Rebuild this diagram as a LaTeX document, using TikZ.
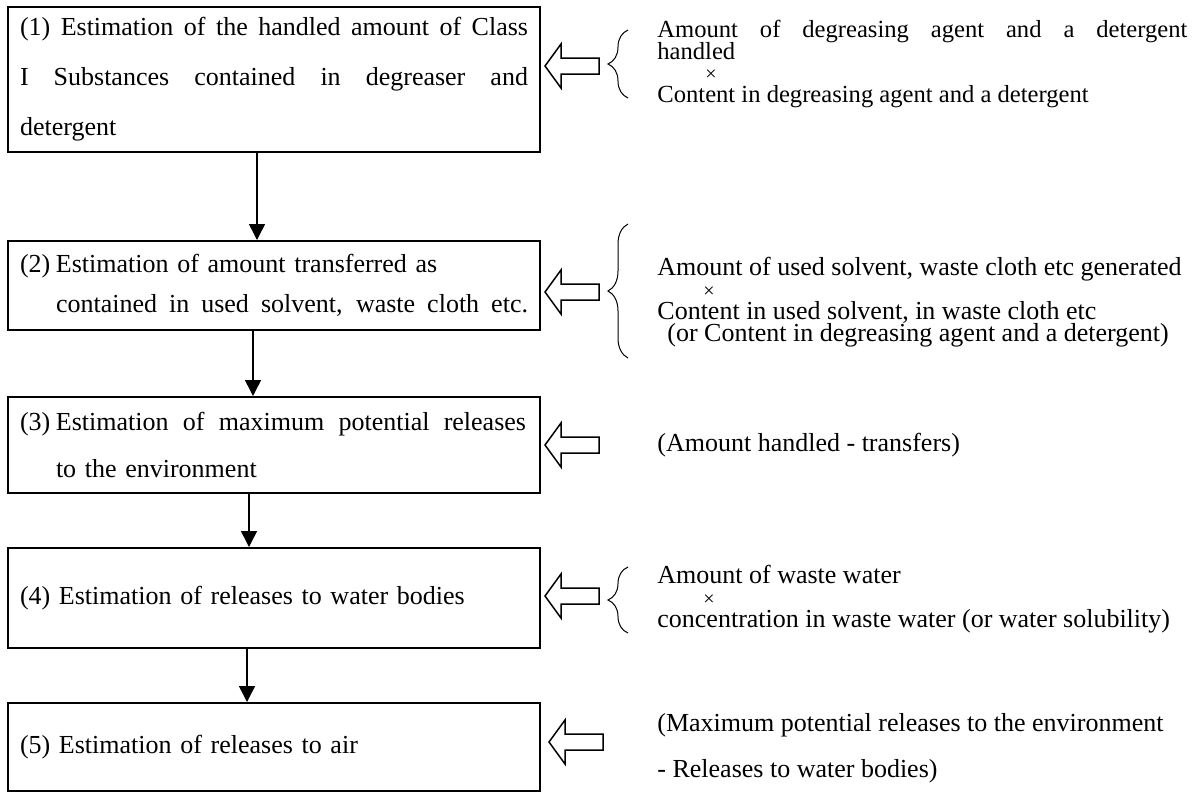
\documentclass[tikz,border=0pt]{standalone}
\usepackage{fontspec}
\setmainfont{Liberation Serif}
\usetikzlibrary{arrows.meta,decorations.pathreplacing}
\setlength{\lineskiplimit}{-20pt}
\newcommand{\spreadline}[2]{{\spaceskip=.25em plus 1fil\makebox[#1][s]{#2}}}
\newcommand{\timessign}{{\fontsize{10}{10}\selectfont ×}}

\tikzset{
  stepbox/.style={draw, line width=1pt, minimum width=266pt, text width=254pt,
    inner xsep=6pt, align=left, font=\fontsize{13}{23.5}\selectfont},
  flow/.style={-{Triangle[length=8pt,width=8pt]}, line width=0.75pt},
  hollow/.style={draw, line width=0.75pt, fill=white},
  note/.style={anchor=west, align=left, inner sep=0pt,
    font=\fontsize{13}{11}\selectfont},
  bracel/.style={decorate, decoration={brace, amplitude=10pt}, line width=0.5pt}
}

\begin{document}
\begin{tikzpicture}[x=0.5pt, y=-0.5pt]
  \useasboundingbox (0,0) rectangle (1198,793);

  \node[stepbox, minimum height=72.5pt, font=\fontsize{13}{25}\selectfont] (box1) at (274,79.5)
    {\spreadline{254pt}{(1) Estimation of the handled amount of Class}\\
     \spreadline{254pt}{I Substances contained in degreaser and}\\
     detergent};
  \node[stepbox, minimum height=44.5pt, font=\fontsize{13}{20}\selectfont] (box2) at (274,285.5)
    {\makebox[18pt][l]{(2)}Estimation of amount transferred as\\
     \hspace*{18pt}\spreadline{236pt}{contained in used solvent, waste cloth etc.}};
  \node[stepbox, minimum height=48pt] (box3) at (274,445)
    {\makebox[18pt][l]{(3)}\spreadline{235pt}{Estimation of maximum potential releases}\\
     \hspace*{18pt}to the environment};
  \node[stepbox, minimum height=50pt] (box4) at (274,598)
    {(4) Estimation of releases to water bodies};
  \node[stepbox, minimum height=44pt] (box5) at (274,747)
    {(5) Estimation of releases to air};

  \foreach \a/\b/\s in {1/2/-8.5, 2/3/-10.5, 3/4/-12.5, 4/5/-13.5}
    \draw[flow] ([xshift=\s pt]box\a.south) -- ([xshift=\s pt]box\b.north);

  \foreach \n/\dx/\dy in {1/2/6.75, 2/2/-3.25, 3/2/0, 4/2/1, 5/4/2.5}
    \draw[hollow] ([xshift=\dx pt, yshift=\dy pt]box\n.east)
      -- ++(16,-22) -- ++(0,14) -- ++(38,0) -- ++(0,16)
      -- ++(-38,0) -- ++(0,14) -- cycle;

  \node[note, font=\fontsize{12.3}{10.8}\selectfont] (note1) at (657,64)
    {\makebox[265pt][s]{Amount of degreasing agent and a detergent}\\
     handled\\
     \hspace*{24pt}\timessign\\
     Content in degreasing agent and a detergent};
  \node[note] (note2) at (657,302)
    {Amount of used solvent, waste cloth etc generated\\
     \hspace*{23pt}\timessign\\
     Content in used solvent, in waste cloth etc\\
     \hspace*{5pt}(or Content in degreasing agent and a detergent)};
  \node[note] (note3) at (657,445) {(Amount handled - transfers)};
  \node[note] (note4) at (657,599)
    {Amount of waste water\\
     \hspace*{23pt}\timessign\\
     concentration in waste water (or water solubility)};
  \node[note, font=\fontsize{13}{23}\selectfont] (note5) at (657,748)
    {(Maximum potential releases to the environment\\
     - Releases to water bodies)};

  \draw[bracel] (628,98) -- (628,30);
  \draw[bracel] (628,358) -- (628,224);
  \draw[bracel] (628,633) -- (628,567);
\end{tikzpicture}
\end{document}
